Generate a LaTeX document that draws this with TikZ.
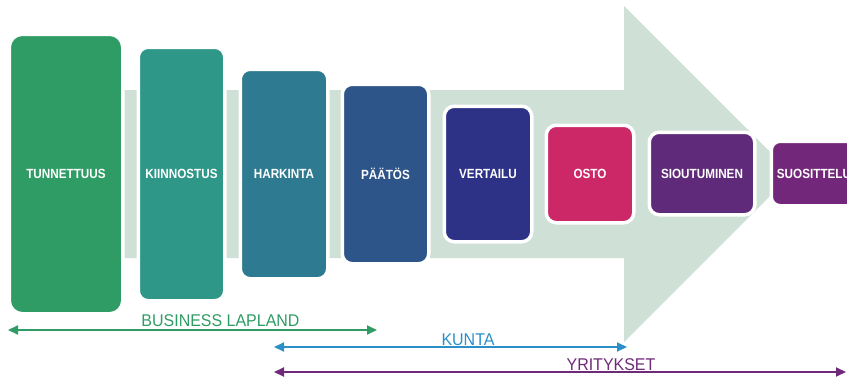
\documentclass[tikz,border=0pt]{standalone}
\usepackage{fontspec}
\setmainfont{Liberation Sans}
\newfontfamily\stagefont{Liberation Sans}[FakeStretch=0.88]
\newfontfamily\spanfont{Liberation Sans}[FakeStretch=0.94]
\usetikzlibrary{arrows.meta}

\definecolor{cTun}{RGB}{46,156,100}
\definecolor{cKii}{RGB}{46,151,136}
\definecolor{cHar}{RGB}{46,122,145}
\definecolor{cPaa}{RGB}{45,85,137}
\definecolor{cVer}{RGB}{45,50,135}
\definecolor{cOst}{RGB}{204,40,104}
\definecolor{cSio}{RGB}{95,42,122}
\definecolor{cSuo}{RGB}{114,39,122}
\definecolor{cFlow}{RGB}{207,224,214}
\definecolor{cKunta}{RGB}{43,143,200}
\definecolor{cYri}{RGB}{111,42,122}

\tikzset{
  stage/.style={draw=white, line width=3.5pt, rounded corners=10pt,
    inner sep=0pt, text=white,
    font=\stagefont\bfseries\fontsize{13.3}{14}\selectfont},
  rangelabel/.style={anchor=base, inner sep=0pt,
    font=\spanfont\fontsize{17}{17}\selectfont},
  spanline/.style={line width=2pt, {Triangle[length=10pt,width=9pt]}-{Triangle[length=10pt,width=9pt]}}
}

\begin{document}
\begin{tikzpicture}[x=1pt, y=-1pt]
\useasboundingbox (0,0) rectangle (847,378);
\clip (0,0) rectangle (847,378);

% big flow arrow in the background
\fill[cFlow] (60,90) -- (624,90) -- (624,6) -- (792,174) -- (624,342)
  -- (624,258) -- (60,258) -- cycle;

% stages of the customer path
\node[stage, fill=cTun, rounded corners=13pt, minimum width=113.5pt, minimum height=279.5pt] (tun) at (66,174) {TUNNETTUUS};
\node[stage, fill=cKii, minimum width=86.5pt, minimum height=253.5pt] (kii) at (181.5,174) {KIINNOSTUS};
\node[stage, fill=cHar, minimum width=87.5pt, minimum height=209.5pt] (har) at (284,174) {HARKINTA};
\node[stage, fill=cPaa, minimum width=86.5pt, minimum height=179.5pt] (paa) at (385.5,174) {PÄÄTÖS};
\node[stage, fill=cVer, minimum width=87.5pt, minimum height=135.5pt] (ver) at (488,174) {VERTAILU};
\node[stage, fill=cOst, minimum width=87.5pt, minimum height=97.5pt] (ost) at (590,174) {OSTO};
\node[stage, fill=cSio, minimum width=105.5pt, minimum height=82.5pt] (sio) at (702,173.5) {SIOUTUMINEN};
\node[stage, fill=cSuo, rounded corners=9pt, minimum width=85.5pt, minimum height=64.5pt] (suo) at (814,173.5) {SUOSITTELU};

% ranges of the actors
\coordinate (blL) at (8,330);
\coordinate (blR) at (377,330);
\coordinate (kuL) at (274,347);
\coordinate (kuR) at (627,347);
\coordinate (yrL) at (274,372);
\coordinate (yrR) at (846,372);

\draw[spanline, cTun] (blL) -- (blR);
\draw[spanline, cKunta] (kuL) -- (kuR);
\draw[spanline, cYri] (yrL) -- (yrR);

\node[rangelabel, text=cTun] (bl) at (220.5,326) {BUSINESS LAPLAND};
\node[rangelabel, text=cKunta] (ku) at (468,345) {KUNTA};
\node[rangelabel, text=cYri] (yr) at (611,370.5) {YRITYKSET};
\end{tikzpicture}
\end{document}
